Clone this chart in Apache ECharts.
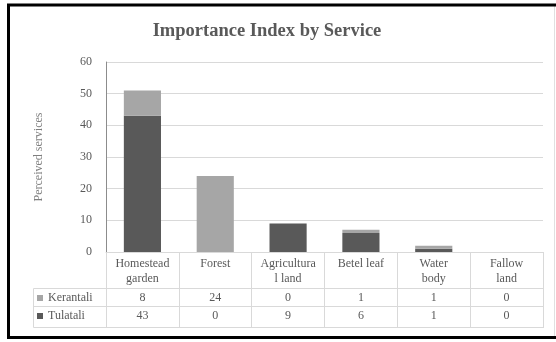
<!DOCTYPE html>
<html>
<head>
<meta charset="utf-8">
<script src="https://cdn.jsdelivr.net/npm/echarts@6/dist/echarts.min.js"></script>
<style>
html,body{margin:0;padding:0;background:#fff;}
#c{width:556px;height:342px;}
</style>
</head>
<body>
<div id="c"></div>
<script>
const categories = ['Homestead\ngarden', 'Forest', 'Agricultura\nl land', 'Betel leaf', 'Water\nbody', 'Fallow\nland'];
const kerantali = [8, 24, 0, 1, 1, 0];
const tulatali = [43, 0, 9, 6, 1, 0];
const yTicks = { min: 0, max: 60, interval: 10 };

const SERIF = '"Liberation Serif", "DejaVu Serif", serif';
const TXT = '#595959';
const LINE = '#d9d9d9';

const chart = echarts.init(document.getElementById('c'), null, { renderer: 'canvas' });

function rowAxis(offset, values) {
  return {
    type: 'category', data: categories, position: 'bottom', offset: offset,
    axisLine: { show: true, lineStyle: { color: LINE, width: 1 } },
    axisTick: { show: false },
    axisLabel: values ? {
      interval: 0, margin: 4, color: TXT, fontFamily: SERIF, fontSize: 12,
      formatter: (v, i) => String(values[i])
    } : { show: false },
    splitLine: { show: false }
  };
}

chart.setOption({
  animation: false,
  title: {
    text: 'Importance Index by Service', left: 262, top: 17, textAlign: 'center',
    textStyle: { fontFamily: SERIF, fontSize: 18.5, fontWeight: 'bold', color: TXT }
  },
  grid: { left: 106, right: 13, top: 62, bottom: 90 },
  legend: {
    data: ['Kerantali', 'Tulatali'], orient: 'vertical', left: 37, top: 291, padding: 0,
    itemWidth: 6, itemHeight: 6, itemGap: 4, icon: 'rect',
    textStyle: { fontFamily: SERIF, fontSize: 12, color: TXT, height: 14, lineHeight: 14 }
  },
  xAxis: [
    {
      type: 'category', data: categories, boundaryGap: true,
      axisLine: { show: true, lineStyle: { color: LINE, width: 1 } },
      axisTick: { show: true, length: 76, lineStyle: { color: LINE } },
      axisLabel: { interval: 0, margin: 4, color: TXT, fontFamily: SERIF, fontSize: 12, lineHeight: 15 },
      splitLine: { show: false }
    },
    rowAxis(36, kerantali),
    rowAxis(54, tulatali),
    rowAxis(75, null)
  ],
  yAxis: {
    type: 'value', min: yTicks.min, max: yTicks.max, interval: yTicks.interval,
    name: 'Perceived services', nameLocation: 'middle', nameGap: 61, nameRotate: 90,
    nameTextStyle: { fontFamily: SERIF, fontSize: 12, color: '#7f7f7f' },
    axisLine: { show: true, lineStyle: { color: '#8c8c8c', width: 1 } },
    axisTick: { show: false },
    axisLabel: { margin: 14, color: TXT, fontFamily: SERIF, fontSize: 12 },
    splitLine: { show: true, lineStyle: { color: LINE, width: 1 } }
  },
  series: [
    { name: 'Tulatali', type: 'bar', stack: 's', data: tulatali, barWidth: '51%',
      itemStyle: { color: '#595959' } },
    { name: 'Kerantali', type: 'bar', stack: 's', data: kerantali, barWidth: '51%',
      itemStyle: { color: '#a6a6a6' } }
  ],
  graphic: [
    { type: 'line', shape: { x1: 33.5, y1: 288.5, x2: 106, y2: 288.5 }, style: { stroke: LINE, lineWidth: 1 } },
    { type: 'line', shape: { x1: 33.5, y1: 306.5, x2: 106, y2: 306.5 }, style: { stroke: LINE, lineWidth: 1 } },
    { type: 'line', shape: { x1: 33.5, y1: 327.5, x2: 106, y2: 327.5 }, style: { stroke: LINE, lineWidth: 1 } },
    { type: 'line', shape: { x1: 33.5, y1: 288.5, x2: 33.5, y2: 327.5 }, style: { stroke: LINE, lineWidth: 1 } },
    { type: 'line', shape: { x1: 554.5, y1: 6, x2: 554.5, y2: 337 }, style: { stroke: '#e0e0e0', lineWidth: 1 } },
    { type: 'rect', shape: { x: 8.5, y: 5, width: 600, height: 332.5 }, style: { fill: 'none', stroke: '#000', lineWidth: 3 } }
  ]
});
</script>
</body>
</html>
